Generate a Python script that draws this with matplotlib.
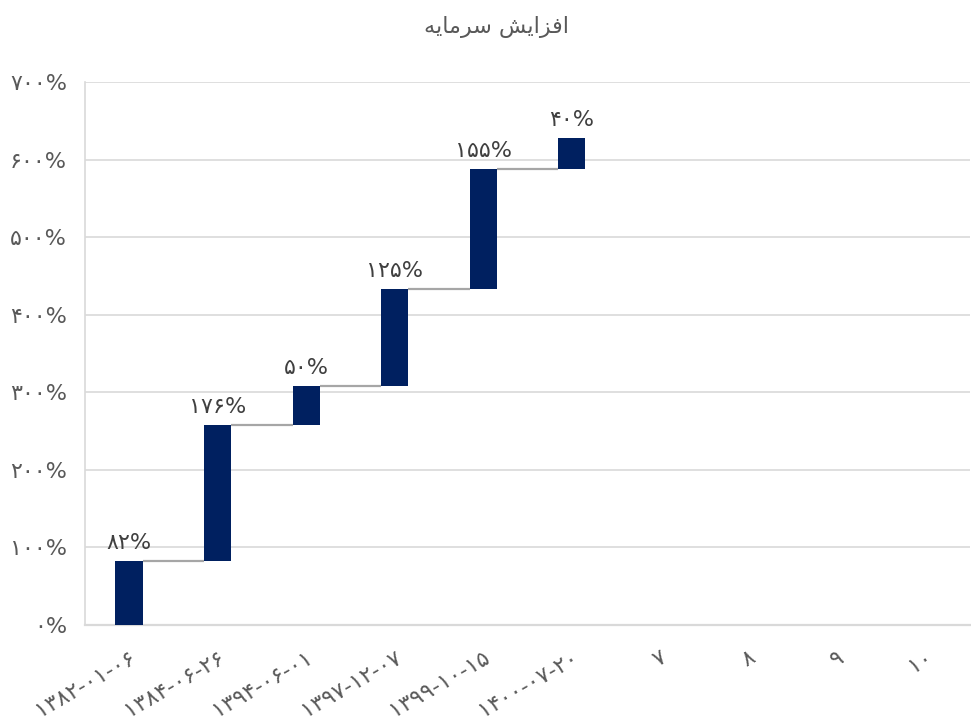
import matplotlib
matplotlib.use("Agg")
import matplotlib.pyplot as plt
import numpy as np

# Data
categories = ["1382-01-06", "1384-06-26", "1394-06-01", "1397-12-07",
              "1399-10-15", "1400-07-20", "7", "8", "9", "10"]
increases = [82, 176, 50, 125, 155, 40]
y_ticks = [0, 100, 200, 300, 400, 500, 600, 700]

# Title "افزایش سرمایه" in visual order with presentation forms
title = "\uFEEA\uFEF3\uFE8E\uFEE3\uFEAE\uFEB3 \uFEB6\uFEF3\uFE8D\uFEB0\uFED3\uFE8D"

FA = str.maketrans("0123456789", "\u06F0\u06F1\u06F2\u06F3\u06F4\u06F5\u06F6\u06F7\u06F8\u06F9")
def fa(s):
    return str(s).translate(FA)

plt.rcParams['font.family'] = ['DejaVu Sans']

fig = plt.figure(figsize=(9.71, 7.22), dpi=100)
ax = fig.add_axes([0.0875, 0.1343, 0.9115, 0.7521])

n = len(categories)
x = np.arange(n)
vals = np.array(increases, dtype=float)
cum = np.cumsum(vals)
bottoms = cum - vals
bw = 0.31
bar_color = "#002060"

ax.bar(x[:len(vals)], vals, bottom=bottoms, width=bw, color=bar_color, zorder=3)

# connectors
for i in range(len(vals) - 1):
    ax.plot([x[i] + bw / 2, x[i + 1] - bw / 2], [cum[i], cum[i]],
            color="#a6a6a6", lw=1.6, zorder=2, solid_capstyle='butt')

# labels
for i, v in enumerate(vals):
    ax.annotate(fa(int(v)) + "%", (x[i], cum[i]), xytext=(0, 6),
                textcoords="offset points", ha="center", va="bottom",
                fontsize=16, color="#404040")

ax.set_xlim(-0.5, n - 0.5)
ax.set_ylim(0, 700)
ax.set_yticks(y_ticks)
ax.set_yticklabels([fa(t) + "%" for t in y_ticks], fontsize=16, color="#595959")
ax.set_xticks(x)
ax.set_xticklabels([fa(c) for c in categories], fontsize=16, color="#595959",
                   rotation=30, ha="right", va="top", rotation_mode="anchor")
ax.tick_params(axis='both', length=0)
ax.tick_params(axis='y', pad=13)
ax.tick_params(axis='x', pad=16)

ax.grid(axis='y', color="#d9d9d9", lw=1.2, zorder=0)
ax.set_axisbelow(True)
for s in ["top", "right"]:
    ax.spines[s].set_visible(False)
ax.spines["left"].set_color("#d9d9d9")
ax.spines["bottom"].set_color("#d9d9d9")
ax.spines["left"].set_linewidth(1.2)
ax.spines["bottom"].set_linewidth(1.6)

fig.text(0.511, 0.962, title, ha="center", va="center", fontsize=16, color="#595959")

fig.savefig("out.png", dpi=100)
